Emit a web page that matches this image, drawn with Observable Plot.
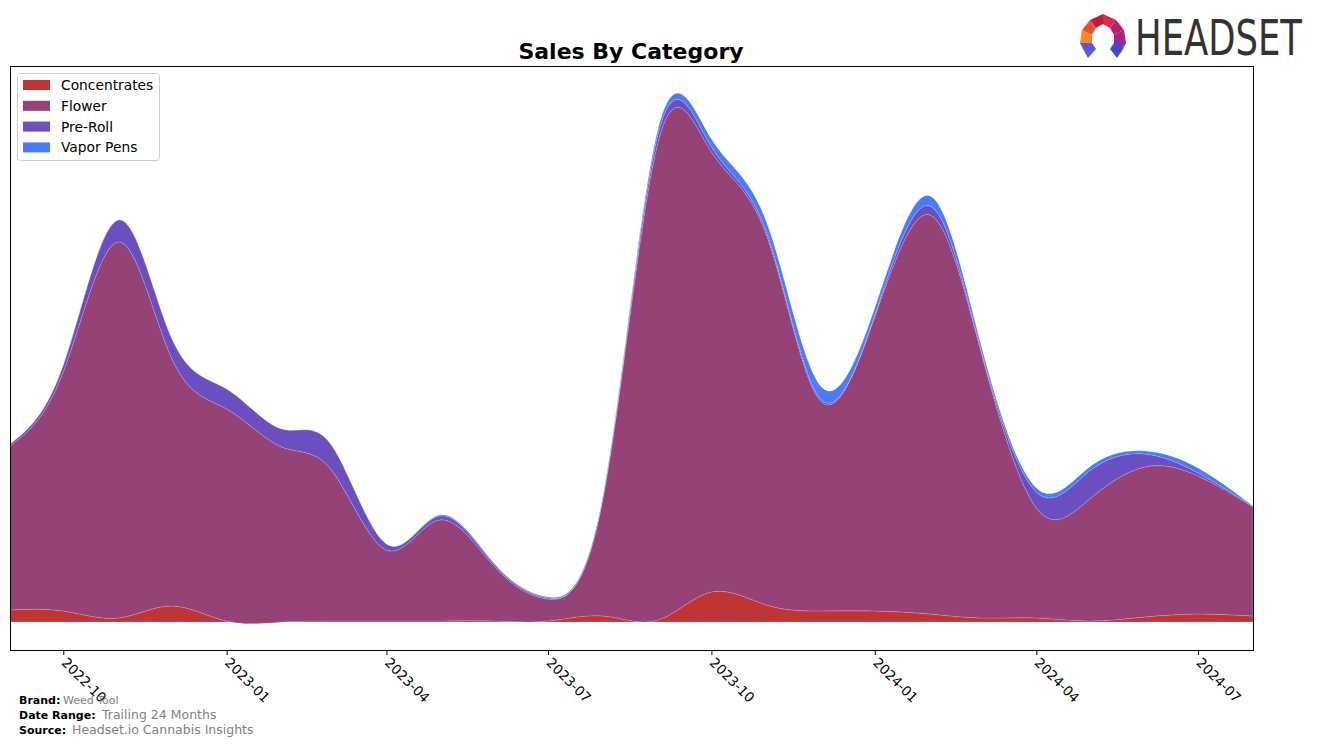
<!DOCTYPE html>
<html>
<head>
<meta charset="utf-8">
<script src="https://cdn.jsdelivr.net/npm/d3@7"></script>
<script src="https://cdn.jsdelivr.net/npm/@observablehq/plot@0.6"></script>
<style>
  html, body { margin: 0; padding: 0; background: #fff; }
  #wrap { position: relative; width: 1317px; height: 746px; overflow: hidden; font-family: "DejaVu Sans", sans-serif; }
  #wrap > svg { position: absolute; left: 0; top: 0; }
</style>
</head>
<body>
<div id="wrap"></div>
<script>
// ---- data ----
const months = ["2022-09","2022-10","2022-11","2022-12","2023-01","2023-02","2023-03","2023-04","2023-05","2023-06","2023-07","2023-08","2023-09","2023-10","2023-11","2023-12","2024-01","2024-02","2024-03","2024-04","2024-05","2024-06","2024-07","2024-08"];
const categories = ["Concentrates", "Flower", "Pre-Roll", "Vapor Pens"];
const colors = ["#c13434", "#954277", "#6b4ec0", "#4a7bfa"];
const concentrates = [12, 11, 4, 16, 1, 0, 1, 1, 1, 1, 1, 6, 2, 30, 17, 11, 11, 8, 4, 4, 1, 5, 8, 6];
const flower       = [164, 239, 376, 248, 212, 175, 151, 71, 101, 54, 22, 118, 478, 440, 370, 211, 294, 399, 265, 110, 122, 150, 138, 109];
const preRoll      = [2, 7, 22, 20, 20, 18, 25, 6, 4, 2, 1, 1, 8, 5, 3, 2, 2, 9, 2, 16, 28, 13, 3, 1];
const vaporPens    = [0, 0, 0, 0, 0, 0, 0, 0, 1, 1, 1, 2, 5, 8, 10, 13, 7, 10, 5, 4, 4, 3, 5, 0];
const tickLabels = ["2022-10","2023-01","2023-04","2023-07","2023-10","2024-01","2024-04","2024-07"];
const brand = "Weed Tool";
const dateRange = "Trailing 24 Months";
const source = "Headset.io Cannabis Insights";

const parse = d3.utcParse("%Y-%m");
const seriesValues = [concentrates, flower, preRoll, vaporPens];
const rows = [];
categories.forEach((c, i) => months.forEach((m, j) => rows.push({cat: c, date: parse(m), value: seriesValues[i][j]})));

const W = 1317, H = 746;
const chart = Plot.plot({
  width: W, height: H,
  marginLeft: 10, marginRight: 64, marginTop: 66, marginBottom: 96,
  style: {fontFamily: "DejaVu Sans, sans-serif", background: "transparent", overflow: "visible"},
  x: {type: "utc", domain: [parse(months[0]), parse(months[months.length - 1])]},
  y: {domain: [-28, 556], axis: null},
  color: {domain: categories, range: colors},
  marks: [
    Plot.areaY(rows, {x: "date", y: "value", z: "cat", fill: "cat", order: categories, curve: "natural",
      stroke: "#ffffff", strokeOpacity: 0.25, strokeWidth: 0.6}),
    Plot.frame({stroke: "black", strokeWidth: 1}),
    Plot.axisX({ticks: tickLabels.map(parse), tickFormat: d3.utcFormat("%Y-%m"), tickRotate: 45,
      tickSize: 5, tickPadding: 5, fontSize: 13.5, label: null, stroke: "black", fill: "black"})
  ]
});
document.getElementById("wrap").appendChild(chart);

// ---- overlay: title, legend, footer, logo ----
const ov = d3.select("#wrap").append("svg").attr("width", W).attr("height", H)
  .style("font-family", "DejaVu Sans, sans-serif");

ov.append("text").attr("x", 631).attr("y", 59).attr("text-anchor", "middle")
  .attr("font-size", 22).attr("font-weight", "bold").attr("fill", "#000").text("Sales By Category");

// legend
const lg = ov.append("g");
lg.append("rect").attr("x", 17.5).attr("y", 73.5).attr("width", 142).attr("height", 87).attr("rx", 3)
  .attr("fill", "rgba(255,255,255,0.85)").attr("stroke", "#cccccc");
categories.forEach((c, i) => {
  const cy = 85 + i * 20.8;
  lg.append("rect").attr("x", 23).attr("y", cy - 5).attr("width", 27).attr("height", 10).attr("fill", colors[i]);
  lg.append("text").attr("x", 61).attr("y", cy + 5).attr("font-size", 13.8).attr("fill", "#000").text(c);
});

// footer
const ft = ov.append("g").attr("font-size", 11);
const foot = [["Brand:", brand, 704, 63, 11], ["Date Range:", dateRange, 719, 102, 12.5], ["Source:", source, 734, 72, 12.5]];
foot.forEach(([k, v, y, vx, fs]) => {
  ft.append("text").attr("x", 19).attr("y", y).attr("font-weight", "bold").attr("fill", "#000").text(k);
  ft.append("text").attr("x", vx).attr("y", y).attr("font-size", fs).attr("fill", "#808080").text(v);
});

// logo
const lo = ov.append("g");
const polys = [
  {p: "1090,20 1103,14 1103,24 1096,28", c: "#b8203a"},
  {p: "1103,14 1116,20 1110,28 1103,24", c: "#d82a4a"},
  {p: "1082,30 1090,20 1096,28 1092,35", c: "#e8502e"},
  {p: "1116,20 1124,30 1114,35 1110,28", c: "#c01c6c"},
  {p: "1080,43 1082,30 1092,35 1092,43", c: "#f28a2a"},
  {p: "1126,43 1124,30 1114,35 1114,43", c: "#a8208c"},
  {p: "1080,43 1092,43 1096,49 1088,58", c: "#5a58d8"},
  {p: "1080,43 1088,58 1084,51", c: "#3b3aa8"},
  {p: "1114,43 1126,43 1117,58 1110,49", c: "#4a48c8"},
  {p: "1126,43 1117,58 1122,51", c: "#2e2c98"}
];
polys.forEach(d => lo.append("polygon").attr("points", d.p).attr("fill", d.c));
lo.append("text").attr("transform", "translate(1135,55) scale(1,1.33)").attr("font-size", 37)
  .attr("font-family", "'DejaVu Sans Condensed', 'Liberation Sans Narrow', sans-serif")
  .attr("textLength", 167).attr("lengthAdjust", "spacingAndGlyphs").attr("fill", "#333333").text("HEADSET");
</script>
</body>
</html>
